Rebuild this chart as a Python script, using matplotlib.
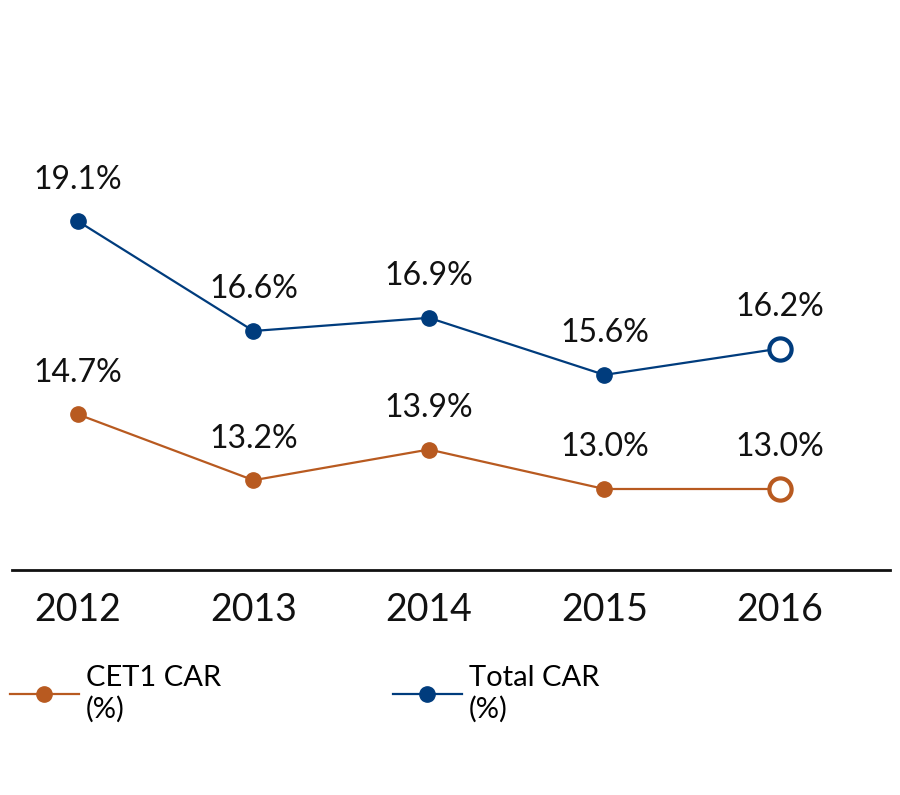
import matplotlib
matplotlib.use('Agg')
import matplotlib.pyplot as plt

years = ['2012', '2013', '2014', '2015', '2016']
total_car = [19.1, 16.6, 16.9, 15.6, 16.2]
cet1_car = [14.7, 13.2, 13.9, 13.0, 13.0]

blue = '#003C7D'
orange = '#B85A20'

plt.rcParams['font.family'] = ['Lato', 'DejaVu Sans']

fig = plt.figure(figsize=(9, 7.95), dpi=100)
ax = fig.add_axes([12 / 900, 225 / 795, 878 / 900, 570 / 795])

x = list(range(len(years)))


def draw_series(vals, color, label):
    line, = ax.plot(x[:-1], vals[:-1], color=color, lw=1.6, marker='o', ms=11,
                    label=label, zorder=3)
    ax.plot(x[-2:], vals[-2:], color=color, lw=1.6, zorder=2)
    ax.plot(x[-1], vals[-1], marker='o', ms=16, mfc='white', mec=color,
            mew=3, ls='none', zorder=4)
    for xi, v in zip(x, vals):
        ax.annotate(f'{v:.1f}%', (xi, v), xytext=(0, 30), textcoords='offset points',
                    ha='center', va='center', fontsize=23, color='#111111')
    return line


cet1_line = draw_series(cet1_car, orange, 'CET1 CAR\n(%)')
total_line = draw_series(total_car, blue, 'Total CAR\n(%)')

ax.set_xlim(-0.376, 4.627)
ax.set_ylim(11.155, 24.14)
for s in ['top', 'right', 'left']:
    ax.spines[s].set_visible(False)
ax.spines['bottom'].set_linewidth(2)
ax.spines['bottom'].set_color('#111111')
ax.set_yticks([])
ax.set_xticks(x)
ax.set_xticklabels(years, fontsize=27, color='#111111')
ax.tick_params(axis='x', length=0, pad=16)

leg_kw = dict(loc='upper left', frameon=False, fontsize=21, handlelength=2.35,
              handletextpad=0.25, borderaxespad=0, borderpad=0, labelspacing=0)
fig.legend(handles=[cet1_line], bbox_to_anchor=(10 / 900, 1 - 665 / 795), **leg_kw)
fig.legend(handles=[total_line], bbox_to_anchor=(393 / 900, 1 - 665 / 795), **leg_kw)

fig.savefig('out.png', dpi=100)
